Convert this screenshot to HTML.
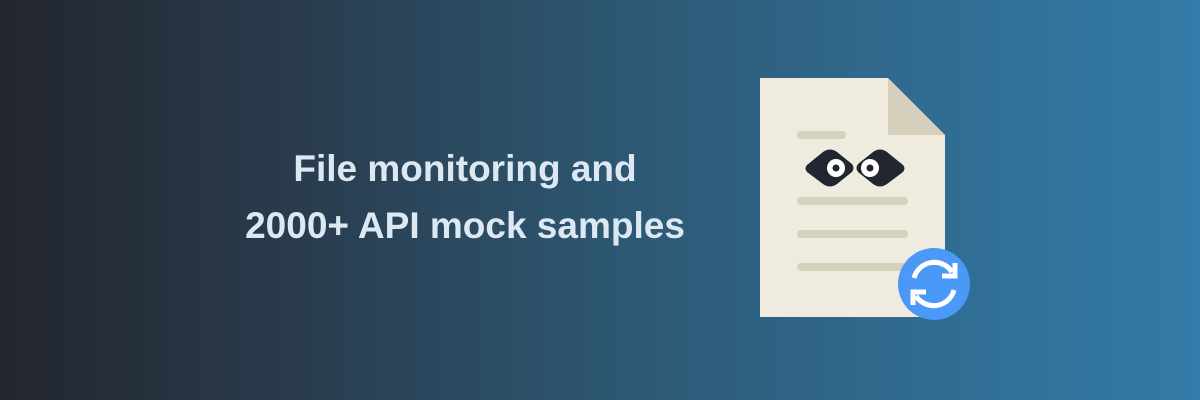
<!DOCTYPE html>
<html><head><meta charset="utf-8"><style>
html,body{margin:0;padding:0}
body{width:1200px;height:400px;overflow:hidden;background:linear-gradient(90deg,#23262e 0%,#2a3c4e 25%,#2d5670 50%,#306a8f 75%,#337ba8 100%);position:relative;font-family:"Liberation Sans",sans-serif}
.title{position:absolute;left:165px;width:600px;top:140px;text-align:center;color:#dce8f2;font-weight:bold;font-size:37px;line-height:57px}
svg{position:absolute;left:0;top:0}
</style></head><body>
<div class="title">File monitoring and<br>2000+ API mock samples</div>
<svg width="1200" height="400">
<path d="M760 78 H888 L945 135 V317 H760 Z" fill="#efebdf"/>
<path d="M888 78 L945 135 H888 Z" fill="#d5cfbb"/>
<g stroke="#d6d1bd" stroke-width="8" stroke-linecap="round">
<line x1="801" y1="135" x2="842" y2="135"/>
<line x1="801" y1="201" x2="904" y2="201"/>
<line x1="801" y1="234" x2="904" y2="234"/>
<line x1="801" y1="267" x2="904" y2="267"/>
</g>
<g>
<path d="M807 165 L823 152 Q830 147 837 152 L852 164 Q855 168 852 172 L837 184 Q830 189 823 184 L807 172 Q804 168 807 165Z" fill="#22272f"/>
<path d="M903 165 L887 152 Q880 147 873 152 L858 164 Q855 168 858 172 L873 184 Q880 189 887 184 L903 172 Q906 168 903 165Z" fill="#22272f"/>
<circle cx="836" cy="168" r="9" fill="#fff"/><circle cx="836" cy="168" r="3.5" fill="#22272f"/>
<circle cx="870" cy="168" r="9" fill="#fff"/><circle cx="870" cy="168" r="3.5" fill="#22272f"/>
</g>
<g>
<circle cx="934" cy="284" r="36" fill="#4a98f7"/>
<path d="M914 278 A21 21 0 0 1 952 272" fill="none" stroke="#fff" stroke-width="5"/>
<path d="M954 290 A21 21 0 0 1 916 296" fill="none" stroke="#fff" stroke-width="5"/>
<path d="M955 263 V276 H942" fill="none" stroke="#fff" stroke-width="5"/>
<path d="M913 305 V292 H926" fill="none" stroke="#fff" stroke-width="5"/>
</g>
</svg>
</body></html>
